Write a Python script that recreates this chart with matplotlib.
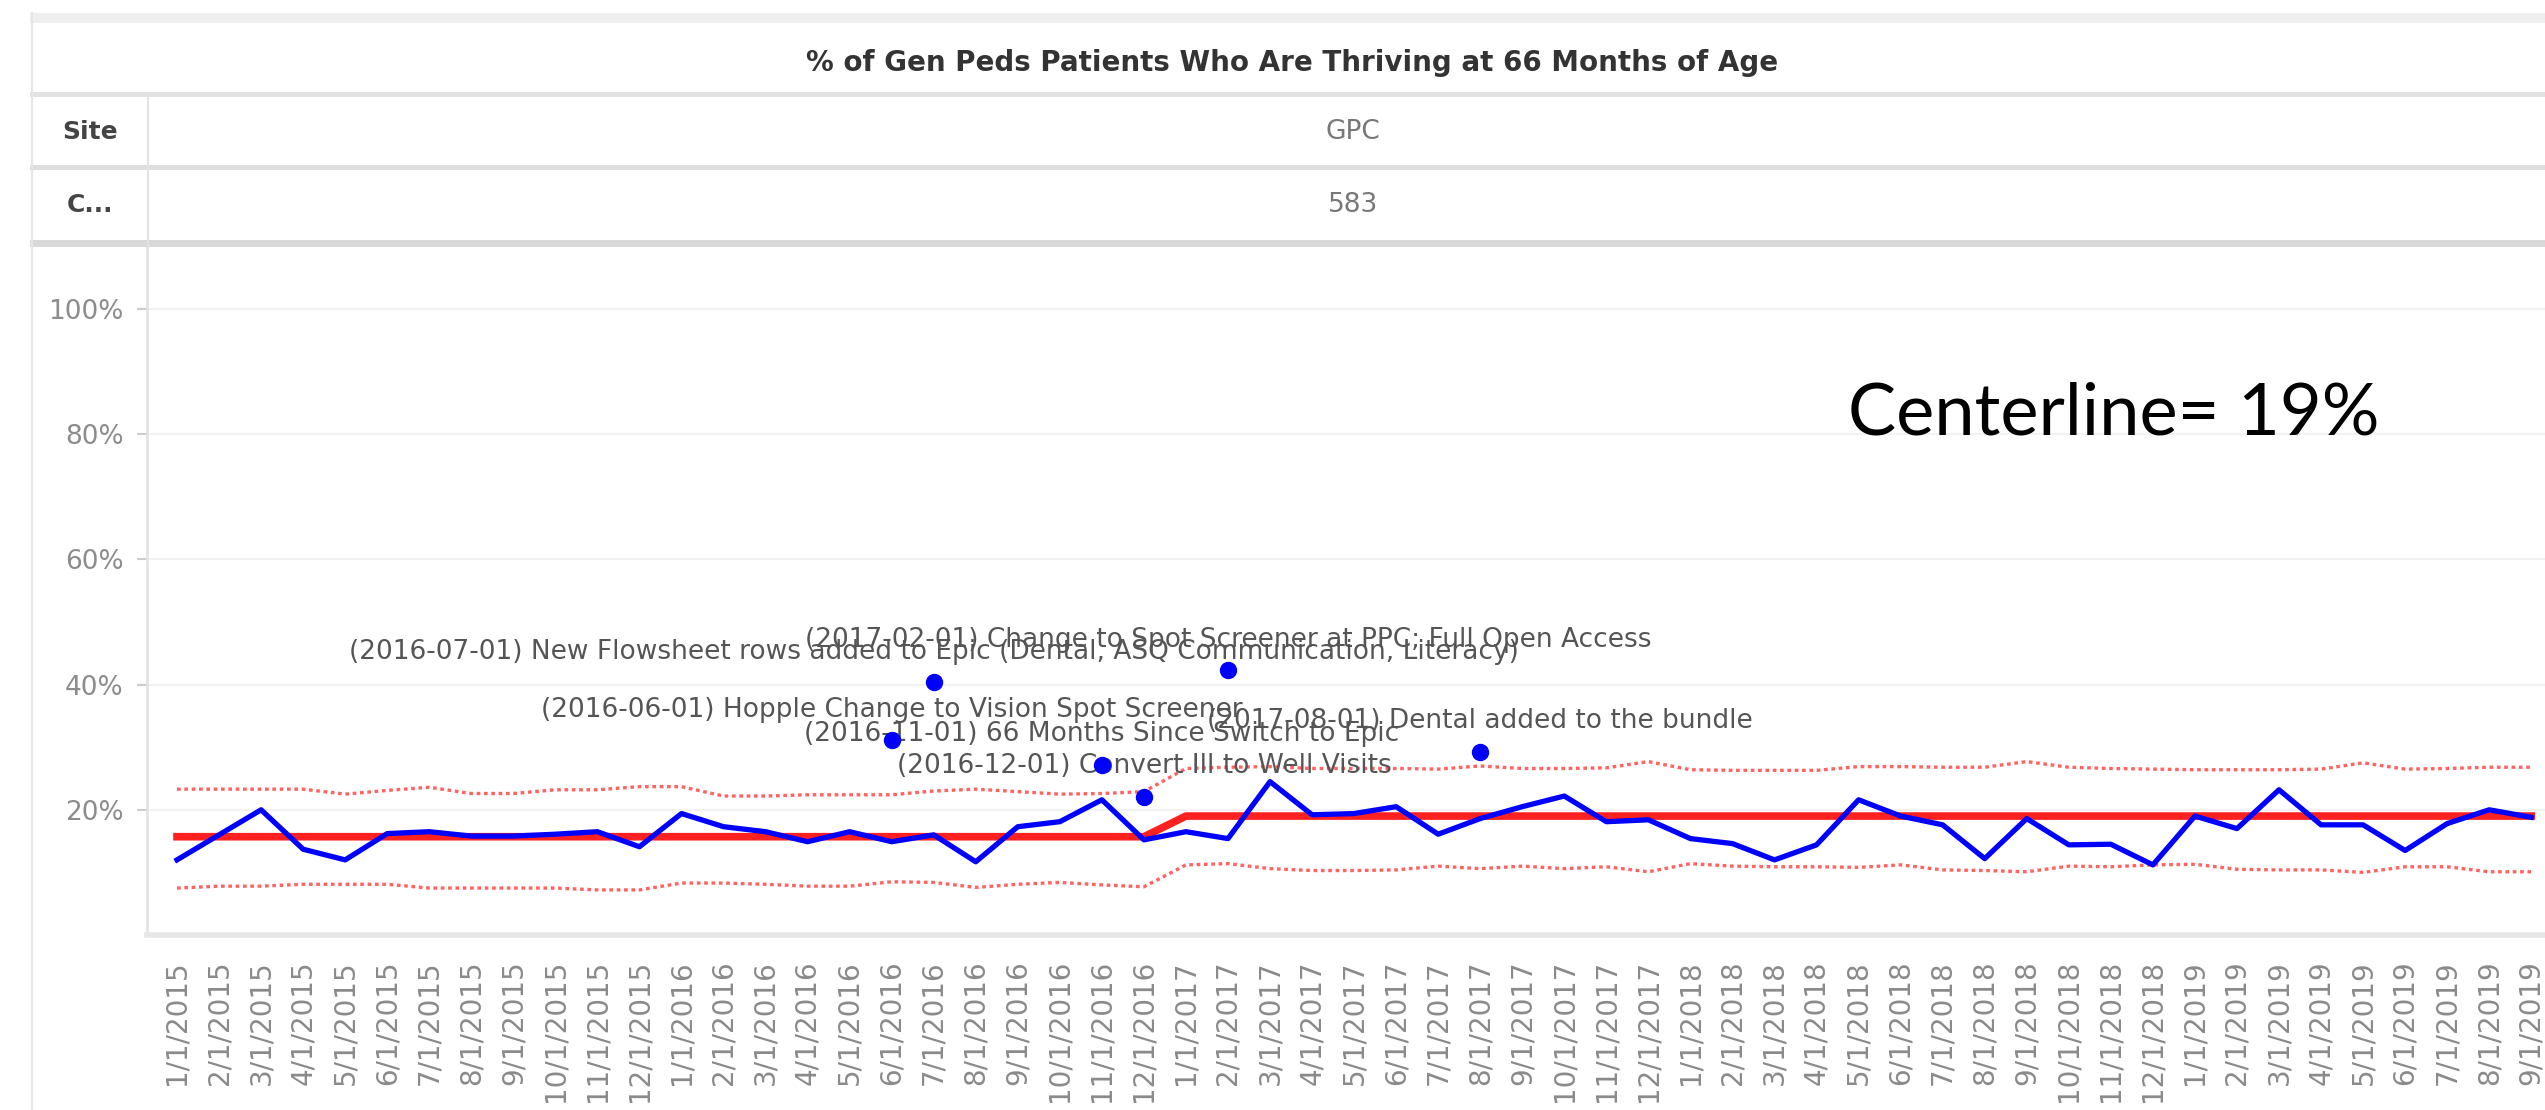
import matplotlib
matplotlib.use("Agg")
import matplotlib.pyplot as plt
from matplotlib.patches import Rectangle
from matplotlib.lines import Line2D

W, H = 2545, 1110

# month categories 1/1/2015 .. 9/1/2019
months = [f"{m}/1/{y}" for y in range(2015, 2020) for m in range(1, 13)][:57]

# % thriving per month
pct = [12.0, 16.0, 20.0, 13.7, 12.0, 16.2, 16.5, 15.8, 15.8, 16.1,
       16.5, 14.1, 19.4, 17.3, 16.5, 14.9, 16.5, 14.9, 16.0, 11.7,
       17.3, 18.1, 21.6, 15.2, 16.5, 15.4, 24.5, 19.2, 19.4, 20.5,
       16.1, 18.6, 20.5, 22.2, 18.1, 18.4, 15.4, 14.6, 12.0, 14.4,
       21.6, 19.0, 17.6, 12.2, 18.6, 14.4, 14.5, 11.2, 19.0, 17.0,
       23.2, 17.6, 17.6, 13.5, 17.8, 20.0, 18.8]

ucl = [23.3, 23.3, 23.3, 23.3, 22.5, 23.1, 23.6, 22.6, 22.6, 23.2,
       23.2, 23.7, 23.7, 22.2, 22.2, 22.4, 22.4, 22.4, 23.0, 23.3,
       22.9, 22.5, 22.6, 22.9, 26.6, 26.8, 26.9, 26.6, 26.6, 26.6,
       26.5, 27.0, 26.6, 26.6, 26.7, 27.7, 26.4, 26.3, 26.3, 26.3,
       26.9, 26.9, 26.8, 26.8, 27.7, 26.8, 26.6, 26.5, 26.4, 26.4,
       26.4, 26.5, 27.5, 26.5, 26.6, 26.8, 26.8]

lcl = [7.5, 7.8, 7.8, 8.1, 8.1, 8.1, 7.5, 7.5, 7.5, 7.5,
       7.2, 7.2, 8.3, 8.3, 8.1, 7.8, 7.8, 8.5, 8.4, 7.6,
       8.1, 8.4, 8.0, 7.7, 11.2, 11.4, 10.6, 10.3, 10.3, 10.4,
       11.0, 10.6, 11.0, 10.6, 10.9, 10.1, 11.4, 11.0, 10.9, 10.9,
       10.8, 11.2, 10.4, 10.3, 10.1, 11.0, 10.9, 11.2, 11.3, 10.5,
       10.4, 10.4, 10.0, 10.9, 10.9, 10.1, 10.1]

center = [15.7] * 24 + [19.0] * 33

note_dates = ["6/1/2016", "7/1/2016", "11/1/2016", "12/1/2016", "2/1/2017", "8/1/2017"]
note_vals = [31.1, 40.4, 27.2, 22.1, 42.3, 29.3]
note_texts = [
    "(2016-06-01) Hopple Change to Vision Spot Screener",
    "(2016-07-01) New Flowsheet rows added to Epic (Dental, ASQ Communication, Literacy)",
    "(2016-11-01) 66 Months Since Switch to Epic",
    "(2016-12-01) Convert Ill to Well Visits",
    "(2017-02-01) Change to Spot Screener at PPC; Full Open Access",
    "(2017-08-01) Dental added to the bundle",
]


def fx(x):
    return x / W


def fy(y):
    return 1 - y / H


def band(x0, y0, x1, y1, color):
    fig.add_artist(Rectangle((fx(x0), fy(y1)), fx(x1) - fx(x0), fy(y0) - fy(y1),
                             transform=fig.transFigure, color=color, lw=0))


fig = plt.figure(figsize=(W / 100, H / 100), dpi=100)
fig.patch.set_facecolor("white")

# header table
band(30, 13, W, 23, "#eeeeee")
band(30, 92, W, 97, "#e2e2e2")
band(30, 165, W, 170, "#dedede")
band(30, 240, W, 247, "#d9d9d9")
fig.add_artist(Line2D([fx(32), fx(32)], [fy(13), fy(H)], transform=fig.transFigure,
                      color="#e6e6e6", lw=1.5))
fig.add_artist(Line2D([fx(148), fx(148)], [fy(97), fy(247)], transform=fig.transFigure,
                      color="#e3e3e3", lw=1.5))

fig.text(fx(1292), fy(63), "% of Gen Peds Patients Who Are Thriving at 66 Months of Age",
         ha="center", va="center", fontsize=20, fontweight="bold", color="#333333")
fig.text(fx(90), fy(132), "Site", ha="center", va="center", fontsize=18,
         fontweight="bold", color="#444444")
fig.text(fx(90), fy(205), "C...", ha="center", va="center", fontsize=18,
         fontweight="bold", color="#444444")
fig.text(fx(1353), fy(132), "GPC", ha="center", va="center", fontsize=19, color="#777777")
fig.text(fx(1353), fy(205), "583", ha="center", va="center", fontsize=19, color="#777777")

# chart
ax = fig.add_axes([fx(147), fy(935), fx(W) - fx(147), fy(247) - fy(935)])
x = list(range(len(months)))
ax.set_xlim(-30 / 42.04, (W - 177) / 42.04)
ax.set_ylim(0, (935 - 247) / 6.26)

ax.plot(x, ucl, color="#ff3030", lw=2.4, ls=(0, (1.1, 1.1)), alpha=0.75, zorder=2)
ax.plot(x, lcl, color="#ff3030", lw=2.4, ls=(0, (1.1, 1.1)), alpha=0.75, zorder=2)
ax.plot(x, center, color="#ff2020", lw=5.5, zorder=3)
ax.plot(x, pct, color="#0000ff", lw=3.8, zorder=4)

for d, v, t in zip(note_dates, note_vals, note_texts):
    i = months.index(d)
    ax.plot(i, v, "o", color="#0000ff", ms=11.5, zorder=6)
    ax.annotate(t, (i, v), xytext=(0, 22), textcoords="offset points",
                ha="center", va="center", fontsize=19, color="#555555", zorder=5)

ax.set_yticks([20, 40, 60, 80, 100])
ax.set_yticklabels(["20%", "40%", "60%", "80%", "100%"])
ax.yaxis.grid(True, color="#f2f2f2", lw=1.5)
ax.set_axisbelow(True)
ax.tick_params(axis="y", length=7, width=1.5, color="#cccccc", pad=10,
               labelsize=19, labelcolor="#8c8c8c")
ax.set_xticks(x)
ax.set_xticklabels(months, rotation=90)
ax.tick_params(axis="x", length=0, pad=18, labelsize=20, labelcolor="#8a8a8a")

for s in ["top", "right"]:
    ax.spines[s].set_visible(False)
ax.spines["left"].set_color("#e3e3e3")
ax.spines["left"].set_linewidth(2)
ax.spines["bottom"].set_color("#e6e6e6")
ax.spines["bottom"].set_linewidth(4)

fig.text(fx(2114), fy(414), "Centerline= 19%", ha="center", va="center",
         fontsize=52, family=["Lato", "DejaVu Sans"], color="black")

fig.savefig("out.png", dpi=100)
